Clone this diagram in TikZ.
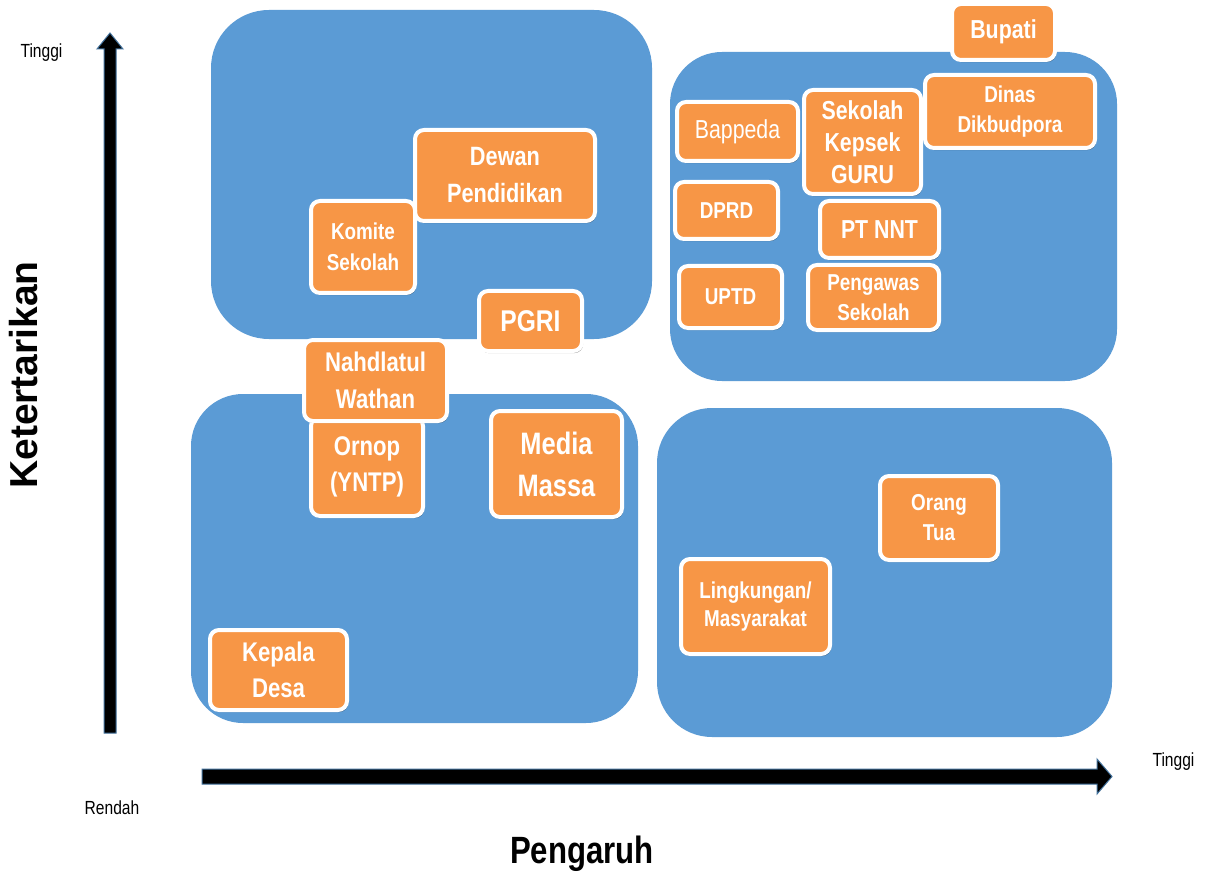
\documentclass[tikz,border=0pt]{standalone}
\usepackage{fontspec}
\setmainfont{Liberation Sans}
\newfontfamily\nar{Liberation Sans}[FakeStretch=0.82]
\usetikzlibrary{shadows}
\definecolor{qblue}{HTML}{5B9BD5}
\definecolor{qorange}{HTML}{F79646}
\definecolor{aedge}{HTML}{41719C}
\newcommand\fsz[2]{\fontsize{#1}{#2}\selectfont}
\tikzset{
  quad/.style={fill=qblue, rounded corners=#1},
  stk/.style={draw=white, line width=4pt, fill=qorange, rounded corners=9pt,
    text=white, align=center, inner sep=0pt,
    drop shadow={shadow xshift=1.2pt, shadow yshift=-2.2pt, opacity=0.35, fill=black}},
  lbl/.style={font=\nar\fsz{19}{22}, text=black, inner sep=0pt},
  blockarrow/.style={fill=black, draw=aedge, line width=1pt, line join=miter},
}
\begin{document}
\begin{tikzpicture}[x=1pt, y=-1pt]
\fill[white] (0,0) rectangle (1206,874);
\useasboundingbox (0,0) rectangle (1206,874);

% quadrants
\fill[quad=58pt] (211,10) rectangle (652,339);
\fill[quad=52pt] (670,52) rectangle (1117,381);
\fill[quad=52pt] (191,394) rectangle (638,723);
\fill[quad=55pt] (657,408) rectangle (1112,737);

% axes (block arrows)
\draw[blockarrow] (104,733) -- (104,49) -- (97,49) -- (110,33) -- (123,49) -- (116,49) -- (116,733) -- cycle;
\draw[blockarrow] (202,769) -- (1097,769) -- (1097,759) -- (1112,776.5) -- (1097,794) -- (1097,784) -- (202,784) -- cycle;

% axis labels
\node[lbl] (tinggiy) at (41.5,53) {Tinggi};
\node[lbl] (rendah) at (112,808) {Rendah};
\node[lbl] (tinggix) at (1173.5,762) {Tinggi};
\node[font=\bfseries\fsz{39}{42}, rotate=90, anchor=base, inner sep=0pt] (ket) at (37.5,375) {Ketertarikan};
\node[font=\nar\bfseries\fsz{38}{42}, anchor=base, inner sep=0pt] (peng) at (582,863) {Pengaruh};

% top right
\node[stk, minimum width=103pt, minimum height=56pt, font=\nar\bfseries\fsz{26}{31}] (bupati) at (1003.5,32) {Bupati};
\node[stk, minimum width=170pt, minimum height=73pt, font=\nar\bfseries\fsz{23}{30}] (dinas) at (1010,111.5) {Dinas\\Dikbudpora};
\node[stk, minimum width=121pt, minimum height=59pt, font=\nar\fsz{26}{31}] (bappeda) at (737.5,131.5) {Bappeda};
\node[stk, minimum width=117pt, minimum height=104pt, font=\nar\bfseries\fsz{26}{32}] (sekolah) at (862.5,142) {Sekolah\\Kepsek\\GURU};
\node[stk, minimum width=103pt, minimum height=57pt, font=\nar\bfseries\fsz{23}{28}] (dprd) at (726.5,210.5) {DPRD};
\node[stk, minimum width=119pt, minimum height=57pt, font=\nar\bfseries\fsz{26}{31}] (ptnnt) at (879.5,229.5) {PT NNT};
\node[stk, minimum width=103pt, minimum height=62pt, font=\nar\bfseries\fsz{23}{28}] (uptd) at (730.5,297) {UPTD};
\node[stk, minimum width=131pt, minimum height=65pt, font=\nar\bfseries\fsz{23}{30}] (pengawas) at (873.5,297.5) {Pengawas\\Sekolah};

% top left
\node[stk, minimum width=180pt, minimum height=91pt, font=\nar\bfseries\fsz{26.5}{37}] (dewan) at (505,175.5) {Dewan\\Pendidikan};
\node[stk, minimum width=104pt, minimum height=92pt, font=\nar\bfseries\fsz{23}{31}] (komite) at (363,247) {Komite\\Sekolah};
\node[stk, minimum width=103pt, minimum height=60pt, font=\nar\bfseries\fsz{30}{34}] (pgri) at (530.5,321) {PGRI};

% bottom left
\node[stk, minimum width=112pt, minimum height=99pt, font=\nar\bfseries\fsz{27}{36}] (ornop) at (367,466.5) {Ornop\\(YNTP)};
\node[stk, minimum width=143pt, minimum height=81pt, font=\nar\bfseries\fsz{27}{37}] (nw) at (375.5,380.5) {Nahdlatul\\Wathan};
\node[stk, minimum width=131pt, minimum height=106pt, font=\nar\bfseries\fsz{31}{42}] (media) at (556.5,464) {Media\\Massa};
\node[stk, minimum width=137pt, minimum height=80pt, font=\nar\bfseries\fsz{27}{36}] (kepala) at (278.5,670) {Kepala\\Desa};

% bottom right
\node[stk, minimum width=118pt, minimum height=84pt, font=\nar\bfseries\fsz{23}{30}] (orangtua) at (939,518) {Orang\\Tua};
\node[stk, minimum width=149pt, minimum height=95pt, font=\nar\bfseries\fsz{23}{28}] (lingk) at (755.5,606.5) {Lingkungan/\\Masyarakat};
\end{tikzpicture}
\end{document}
